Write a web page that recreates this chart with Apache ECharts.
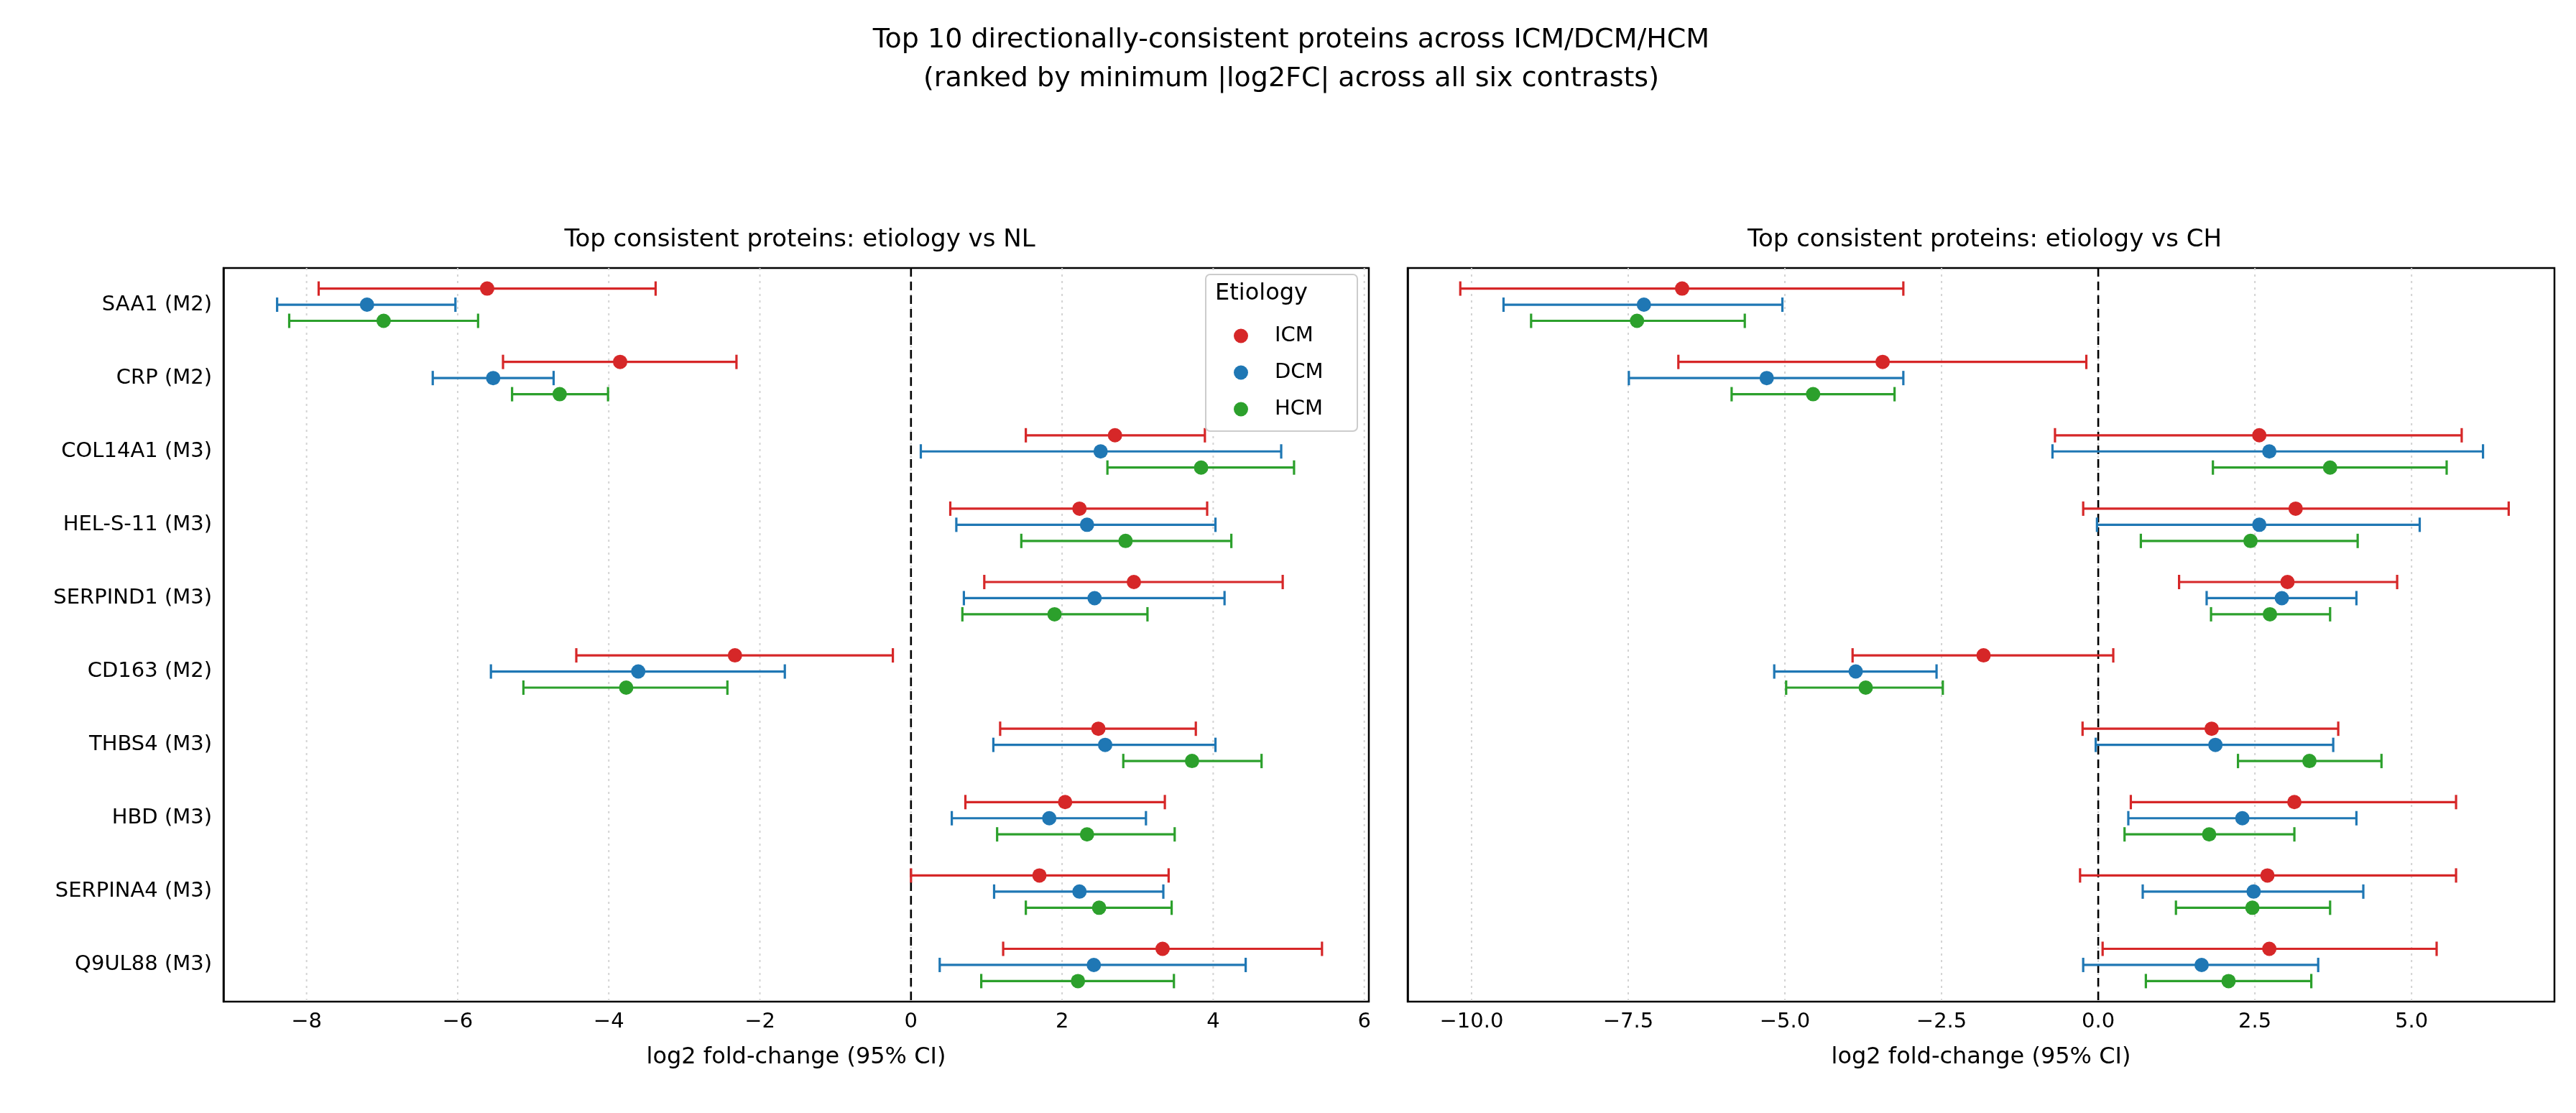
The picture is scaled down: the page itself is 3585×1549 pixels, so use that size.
<!DOCTYPE html>
<html><head><meta charset="utf-8">
<script src="https://cdn.jsdelivr.net/npm/echarts@6/dist/echarts.min.js"></script>
<style>html,body{margin:0;background:#fff}#c{width:3585px;height:1549px}</style>
</head><body><div id="c"></div>
<script>
const proteins = ["SAA1 (M2)","CRP (M2)","COL14A1 (M3)","HEL-S-11 (M3)","SERPIND1 (M3)","CD163 (M2)","THBS4 (M3)","HBD (M3)","SERPINA4 (M3)","Q9UL88 (M3)"];
const etiologies = ["ICM","DCM","HCM"];
const colors = ["#d62728","#1f77b4","#2ca02c"];
const nlTicks = [-8,-6,-4,-2,0,2,4,6];
const chTicks = [-10,-7.5,-5,-2.5,0,2.5,5];
// [estimate, low, high]
const nlICM = [[-5.61,-7.84,-3.38],[-3.85,-5.40,-2.31],[2.70,1.52,3.89],[2.23,0.52,3.92],[2.95,0.97,4.92],[-2.33,-4.43,-0.24],[2.48,1.18,3.77],[2.04,0.72,3.36],[1.70,0.0,3.41],[3.33,1.22,5.44]];
const nlDCM = [[-7.20,-8.39,-6.03],[-5.53,-6.33,-4.73],[2.51,0.13,4.90],[2.33,0.60,4.03],[2.43,0.70,4.15],[-3.61,-5.56,-1.67],[2.57,1.09,4.03],[1.83,0.54,3.11],[2.23,1.10,3.34],[2.42,0.38,4.43]];
const nlHCM = [[-6.98,-8.23,-5.73],[-4.65,-5.28,-4.01],[3.84,2.60,5.07],[2.84,1.46,4.24],[1.90,0.68,3.13],[-3.77,-5.13,-2.43],[3.72,2.81,4.64],[2.33,1.14,3.49],[2.49,1.52,3.45],[2.21,0.93,3.48]];
const chICM = [[-6.64,-10.18,-3.11],[-3.44,-6.70,-0.19],[2.57,-0.69,5.80],[3.15,-0.24,6.55],[3.02,1.29,4.77],[-1.83,-3.92,0.24],[1.81,-0.25,3.83],[3.13,0.52,5.71],[2.70,-0.29,5.71],[2.73,0.07,5.40]];
const chDCM = [[-7.25,-9.49,-5.04],[-5.29,-7.49,-3.11],[2.73,-0.73,6.14],[2.57,-0.02,5.13],[2.93,1.73,4.12],[-3.87,-5.17,-2.58],[1.87,-0.04,3.75],[2.30,0.48,4.12],[2.48,0.71,4.23],[1.65,-0.24,3.51]];
const chHCM = [[-7.36,-9.05,-5.64],[-4.55,-5.85,-3.25],[3.70,1.83,5.56],[2.43,0.68,4.14],[2.74,1.80,3.70],[-3.71,-4.98,-2.48],[3.37,2.23,4.52],[1.77,0.42,3.13],[2.46,1.24,3.70],[2.08,0.76,3.40]];
const nlData = [nlICM, nlDCM, nlHCM];
const chData = [chICM, chDCM, chHCM];
const offsets = [-0.22, 0, 0.22];

const chart = echarts.init(document.getElementById('c'));
const F = 'DejaVu Sans';
function mkSeries(data, axis, k) {
  return {
    name: etiologies[k], type: 'custom', xAxisIndex: axis, yAxisIndex: axis, z: 5,
    itemStyle: {color: colors[k]},
    data: data.map((d, i) => [d[0], i, d[1], d[2]]),
    encode: {x: [0, 2, 3], y: 1},
    renderItem: (params, api) => {
      const h = api.size([0, 1])[1];
      const dy = offsets[k] * h;
      const y = api.coord([0, api.value(1)])[1] + dy;
      const xe = api.coord([api.value(0), 0])[0];
      const xl = api.coord([api.value(2), 0])[0];
      const xh = api.coord([api.value(3), 0])[0];
      const st = {stroke: colors[k], lineWidth: 3.2};
      const cap = 10;
      return {type: 'group', children: [
        {type: 'line', shape: {x1: xl, y1: y, x2: xh, y2: y}, style: st},
        {type: 'line', shape: {x1: xl, y1: y - cap, x2: xl, y2: y + cap}, style: st},
        {type: 'line', shape: {x1: xh, y1: y - cap, x2: xh, y2: y + cap}, style: st},
        {type: 'circle', shape: {cx: xe, cy: y, r: 10}, style: {fill: colors[k]}}
      ]};
    }
  };
}
function zeroLine(axis) {
  return {
    type: 'custom', xAxisIndex: axis, yAxisIndex: axis, silent: true, z: 3,
    data: [[0, 0]], encode: {x: 0, y: 1},
    renderItem: (params, api) => {
      const cs = params.coordSys;
      const x = api.coord([0, 0])[0];
      return {type: 'line', shape: {x1: x, y1: cs.y, x2: x, y2: cs.y + cs.height},
        style: {stroke: '#000', lineWidth: 2.6, lineDash: [12, 7]}};
    }
  };
}
const xAxisBase = (idx, min, max, ticks, fmt) => ({
  gridIndex: idx, type: 'value', min, max,
  name: 'log2 fold-change (95% CI)', nameLocation: 'middle', nameGap: 62,
  nameTextStyle: {fontFamily: F, fontSize: 32, color: '#000'},
  axisLine: {onZero: false, lineStyle: {color: '#000', width: 2.5}},
  axisTick: {customValues: ticks, lineStyle: {color: '#000', width: 2.5}, length: 10},
  axisLabel: {customValues: ticks, fontFamily: F, fontSize: 29, color: '#000', margin: 14, formatter: fmt},
  splitLine: {show: false}
});
const yAxisBase = (idx, showLabels) => ({
  gridIndex: idx, type: 'category', data: proteins, inverse: true,
  axisLine: {onZero: false, lineStyle: {color: '#000', width: 2.5}},
  axisTick: {alignWithLabel: true, lineStyle: {color: '#000', width: 2.5}, length: 10},
  axisLabel: {show: showLabels, fontFamily: F, fontSize: 29, color: '#000', margin: 16},
  splitLine: {show: false}
});
function gridLines(axis, ticks) {
  return {
    type: 'custom', xAxisIndex: axis, yAxisIndex: axis, silent: true, z: 1,
    data: ticks.map(t => [t, 0]), encode: {x: 0, y: 1},
    renderItem: (params, api) => {
      const cs = params.coordSys;
      const x = api.coord([api.value(0), 0])[0];
      return {type: 'line', shape: {x1: x, y1: cs.y, x2: x, y2: cs.y + cs.height},
        style: {stroke: '#d3d3d3', lineWidth: 2, lineDash: [3, 6]}};
    }
  };
}
const series = [gridLines(0, nlTicks), gridLines(1, chTicks), zeroLine(0), zeroLine(1)];
for (let k = 0; k < 3; k++) series.push(mkSeries(nlData[k], 0, k));
for (let k = 0; k < 3; k++) series.push(mkSeries(chData[k], 1, k));

const fmtMinus = d => v => v.toFixed(d).replace('-', '\u2212');
chart.setOption({
  backgroundColor: '#fff',
  animation: false,
  title: [
    {text: 'Top 10 directionally-consistent proteins across ICM/DCM/HCM\n(ranked by minimum |log2FC| across all six contrasts)',
     left: 1792, top: 24, textAlign: 'center',
     textStyle: {fontFamily: F, fontSize: 38, fontWeight: 'normal', color: '#000', lineHeight: 54, align: 'center'}},
    {text: 'Top consistent proteins: etiology vs NL', left: 1108, top: 312, textAlign: 'center',
     textStyle: {fontFamily: F, fontSize: 34, fontWeight: 'normal', color: '#000'}},
    {text: 'Top consistent proteins: etiology vs CH', left: 2757, top: 312, textAlign: 'center',
     textStyle: {fontFamily: F, fontSize: 34, fontWeight: 'normal', color: '#000'}}
  ],
  grid: [
    {left: 311, top: 373, width: 1594, height: 1021, show: true, borderColor: '#000', borderWidth: 2.5},
    {left: 1959, top: 373, width: 1596, height: 1021, show: true, borderColor: '#000', borderWidth: 2.5}
  ],
  xAxis: [
    xAxisBase(0, -9.1, 6.06, nlTicks, fmtMinus(0)),
    xAxisBase(1, -11.02, 7.28, chTicks, fmtMinus(1))
  ],
  yAxis: [yAxisBase(0, true), yAxisBase(1, false)],
  legend: {
    data: etiologies, orient: 'vertical', left: 1712, top: 448, itemGap: 22, z: 20,
    itemWidth: 36, itemHeight: 20, icon: 'circle',
    textStyle: {fontFamily: F, fontSize: 29, color: '#000', padding: [0, 0, 0, 24]}
  },
  graphic: [
    {type: 'rect', left: 1677, top: 381, shape: {width: 211, height: 218, r: 6},
     style: {fill: '#fff', stroke: '#cccccc', lineWidth: 2}, z: 10},
    {type: 'text', left: 1691, top: 393, style: {text: 'Etiology', fontFamily: F, fontSize: 32, fill: '#000'}, z: 30}
  ],
  series
});
</script></body></html>
